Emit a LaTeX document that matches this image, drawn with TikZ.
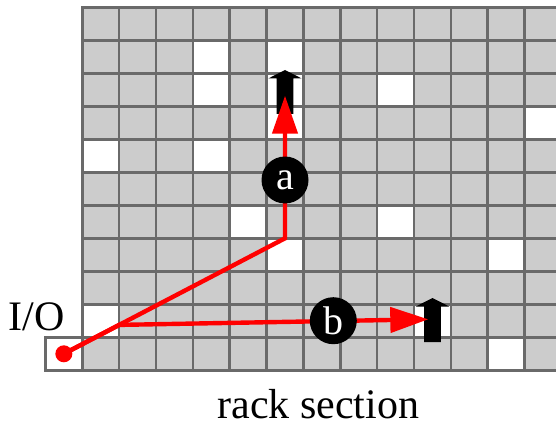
\documentclass[tikz,border=0pt]{standalone}
\usepackage{fontspec}
\newfontfamily\timesface{LiberationSerif-Regular.ttf}
\usetikzlibrary{arrows.meta}
\definecolor{gridline}{HTML}{6A6A6A}
\definecolor{cellgray}{HTML}{CCCCCC}
\begin{document}
\begin{tikzpicture}[x=1pt,y=-1pt,
  gridstroke/.style={draw=gridline, line width=2.6pt, line cap=rect},
  redline/.style={draw=red, line width=4.4pt, -{Triangle[length=38pt,width=25pt]}},
  stepnode/.style={circle, fill=black, minimum size=47pt, inner sep=0pt, text=white,
    font=\timesface\fontsize{40}{40}\selectfont},
  textlabel/.style={font=\timesface\fontsize{42}{48}\selectfont, inner sep=0pt, anchor=base},
  blockarrow/.pic={\fill[black] (0,0) -- (16.7,8.5) -- (8.4,8.5) -- (8.4,44) -- (-8.4,44) -- (-8.4,8.5) -- (-16.7,8.5) -- cycle;}
]
\useasboundingbox (0,0) rectangle (556,422);
\begin{scope}
  \clip (0,0) rectangle (556,422);
  \fill[cellgray] (82.3,7.3) rectangle (561.3,370.3);
  \foreach \c/\r in {3/1,5/1,3/2,5/2,8/2,5/3,12/3,0/4,3/4,4/6,8/6,5/7,11/7,0/9,9/9,11/10}
    \fill[white] ({82.3+\c*36.85},{7.3+\r*33}) rectangle ++(36.85,33);
  \foreach \i in {0,...,13}
    \draw[gridstroke] ({82.3+\i*36.85},7.3) -- ({82.3+\i*36.85},370.3);
  \foreach \j in {0,...,11}
    \draw[gridstroke] (82.3,{7.3+\j*33}) -- (561.3,{7.3+\j*33});
\end{scope}
% I/O cell
\node[draw=gridline, line width=2.6pt, fill=white, minimum width=36.85pt, minimum height=33pt,
  inner sep=0pt, outer sep=0pt] (io) at (63.85,353.8) {};
% black target arrows
\pic at (285,70) {blockarrow};
\pic at (432.5,298) {blockarrow};
% coordinates
\coordinate (cornerA) at (285,238.3);
\coordinate (tipA) at (285,95.7);
\coordinate (branch) at (119.3,324.9);
\coordinate (tipB) at (428.3,319.3);
% red paths
\draw[redline] (io.center) -- (cornerA) -- (tipA);
\draw[redline] (io.center) -- (branch) -- (tipB);
\node[circle, fill=red, minimum size=17pt, inner sep=0pt] (dot) at (io.center) {};
% step nodes
\node[stepnode] (a) at (285,180) {a};
\node[stepnode] (b) at (333.3,320.7) {b};
% labels
\node[textlabel] (iolabel) at (36.5,330.7) {I/O};
\node[textlabel] (caption) at (318.4,418.5) {rack section};
\end{tikzpicture}
\end{document}
